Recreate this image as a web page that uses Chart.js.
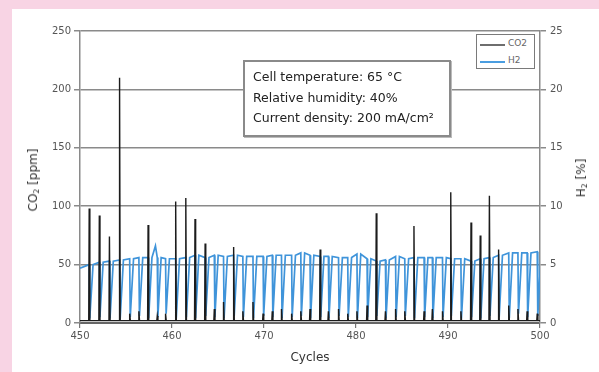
<!DOCTYPE html>
<html>
<head>
<meta charset="utf-8">
<script src="https://cdn.jsdelivr.net/npm/chart.js@4"></script>
<style>
  html, body { margin:0; padding:0; }
  body { width:599px; height:372px; background:#f8d4e4; position:relative; overflow:hidden; font-family:"DejaVu Sans", sans-serif; }
  #panel { position:absolute; left:12px; top:9px; right:0; bottom:0; background:#fff; }
  #wrap { position:absolute; left:0; top:0; width:599px; height:372px; }
  .title { position:absolute; color:#333; font-size:12px; white-space:nowrap; }
  .rot { transform:translate(-50%,-50%) rotate(-90deg); }
  sub { font-size:0.65em; vertical-align:-0.25em; line-height:0; }
  #note { position:absolute; left:243px; top:60px; width:204px; height:73px; background:#fff; border:2px solid #8a8a8a; box-shadow:1px 1px 0 #bbb; }
  #note div { position:absolute; left:8px; font-size:12.5px; color:#222; white-space:nowrap; }
  #legend { position:absolute; left:476px; top:34px; width:57px; height:33px; background:#fff; border:1.5px solid #7a7a7a; }
  #legend .ln { position:absolute; left:3px; width:25px; height:0; }
  #legend .tx { position:absolute; left:31px; font-size:9px; color:#666; }
</style>
</head>
<body>
<div id="panel"></div>
<div id="wrap"><canvas id="c" width="599" height="372"></canvas></div>
<div class="title rot" style="left:33px; top:180px;">CO<sub>2</sub> [ppm]</div>
<div class="title rot" style="left:581px; top:178px;">H<sub>2</sub> [%]</div>
<div class="title" style="left:310px; top:357px; transform:translate(-50%,-50%);">Cycles</div>
<div id="note">
  <div style="top:7px;">Cell temperature: 65 °C</div>
  <div style="top:28px;">Relative humidity: 40%</div>
  <div style="top:48px;">Current density: 200 mA/cm²</div>
</div>
<div id="legend">
  <div class="ln" style="top:9px; border-top:2px solid #6e6e6e;"></div>
  <div class="tx" style="top:3px;">CO2</div>
  <div class="ln" style="top:26px; border-top:2px solid #4a9de0;"></div>
  <div class="tx" style="top:20px;">H2</div>
</div>
<script>
// ---- data ----
const xTicks = [450, 460, 470, 480, 490, 500];
const co2Ticks = [0, 50, 100, 150, 200, 250];
const h2Ticks = [0, 5, 10, 15, 20, 25];

// cycle positions of each purge event (H2 drop / CO2 spike)
const dropCycle = [451.0, 452.1, 453.2, 454.3, 455.4, 456.4, 457.4, 458.4, 459.3, 460.4,
  461.5, 462.5, 463.6, 464.6, 465.6, 466.7, 467.7, 468.8, 469.9, 470.9,
  471.9, 473.0, 474.0, 475.0, 476.1, 477.0, 478.1, 479.1, 480.1, 481.2,
  482.2, 483.2, 484.3, 485.3, 486.3, 487.4, 488.3, 489.4, 490.3, 491.4,
  492.5, 493.5, 494.5, 495.5, 496.6, 497.6, 498.6, 499.7];
// CO2 peak at each event [ppm]
const co2Peak = [98, 92, 74, 210, 8, 10, 84, 6, 8, 104,
  107, 89, 68, 12, 18, 65, 10, 18, 8, 10,
  12, 8, 10, 12, 63, 10, 12, 8, 10, 15,
  94, 10, 12, 10, 83, 10, 12, 10, 112, 10,
  86, 75, 109, 63, 15, 12, 10, 8];
// H2 level just before each event [%]
const h2Level = [5.0, 5.2, 5.3, 5.4, 5.5, 5.6, 5.6, 5.6, 5.5, 5.5,
  5.6, 5.8, 5.6, 5.8, 5.7, 5.8, 5.7, 5.7, 5.7, 5.8,
  5.8, 5.8, 6.0, 5.8, 5.7, 5.7, 5.6, 5.6, 5.9, 5.5,
  5.3, 5.4, 5.7, 5.5, 5.6, 5.6, 5.6, 5.6, 5.5, 5.5,
  5.3, 5.5, 5.6, 5.8, 6.0, 6.0, 6.0, 6.1];
// H2 minimum reached in each drop [%]
const h2Low = [0.4, 0.5, 0.4, 0.3, 0.5, 0.6, 0.4, 0.5, 0.8, 0.4,
  0.5, 0.4, 0.6, 0.5, 0.4, 0.6, 0.5, 0.4, 0.6, 0.5,
  0.4, 0.5, 0.6, 0.4, 0.5, 0.4, 0.6, 0.5, 0.4, 0.5,
  0.6, 0.4, 0.5, 0.6, 0.4, 0.5, 0.4, 0.5, 0.6, 0.4,
  0.5, 0.4, 0.6, 0.5, 0.4, 0.8, 0.5, 0.6];
// extra H2 readings between events (start and the bump near 458)
const h2ExtraCycle = [450.0, 458.2];
const h2ExtraValue = [4.7, 6.6];
const co2Base = 2;

// ---- build series ----
const h2Pts = [];
h2ExtraCycle.forEach((c, i) => h2Pts.push({x: c, y: h2ExtraValue[i]}));
dropCycle.forEach((t, i) => {
  h2Pts.push({x: t, y: h2Level[i]});
  h2Pts.push({x: t + 0.06, y: h2Low[i]});
  h2Pts.push({x: t + 0.42, y: h2Level[i]});
});
h2Pts.sort((a, b) => a.x - b.x);

const co2Pts = [{x: 450, y: co2Base}];
dropCycle.forEach((t, i) => {
  co2Pts.push({x: t - 0.05, y: co2Base});
  co2Pts.push({x: t, y: co2Peak[i]});
  co2Pts.push({x: t + 0.07, y: co2Base});
});
co2Pts.push({x: 500, y: co2Base});

const tickFont = {family: "DejaVu Sans", size: 10};
const tickColor = '#555';

new Chart(document.getElementById('c'), {
  type: 'line',
  data: {
    datasets: [
      {label: 'CO2', data: co2Pts, yAxisID: 'y', borderColor: '#1c1c1c', borderWidth: 1.4, pointRadius: 0, tension: 0, order: 0},
      {label: 'H2', data: h2Pts, yAxisID: 'y2', borderColor: '#3f94da', borderWidth: 1.7, pointRadius: 0, tension: 0, order: 1}
    ]
  },
  options: {
    responsive: false,
    animation: false,
    events: [],
    layout: {padding: {top: 31, left: 0, right: 0, bottom: 0}},
    plugins: {legend: {display: false}, tooltip: {enabled: false}},
    scales: {
      x: {
        type: 'linear', min: 450, max: 500,
        afterBuildTicks: s => { s.ticks = xTicks.map(v => ({value: v})); },
        ticks: {color: tickColor, font: tickFont, padding: 2, maxRotation: 0},
        grid: {drawOnChartArea: false, drawTicks: true, tickLength: 5, color: '#777', lineWidth: 1.2},
        border: {color: '#666', width: 2},
        afterFit: s => { s.height = 49; }
      },
      y: {
        position: 'left', min: 0, max: 250,
        afterBuildTicks: s => { s.ticks = co2Ticks.map(v => ({value: v})); },
        ticks: {color: tickColor, font: tickFont, padding: 3},
        grid: {color: '#8a8a8a', lineWidth: 1.5, tickLength: 6},
        border: {color: '#8a8a8a', width: 1.5},
        afterFit: s => { s.width = 80; }
      },
      y2: {
        position: 'right', min: 0, max: 25,
        afterBuildTicks: s => { s.ticks = h2Ticks.map(v => ({value: v})); },
        ticks: {color: tickColor, font: tickFont, padding: 4},
        grid: {drawOnChartArea: false, tickLength: 6, color: '#8a8a8a', lineWidth: 1.5},
        border: {color: '#8a8a8a', width: 1.5},
        afterFit: s => { s.width = 59; }
      }
    }
  }
});
</script>
</body>
</html>
